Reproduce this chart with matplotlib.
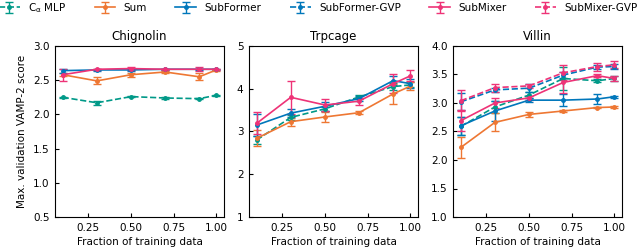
import numpy as np
import matplotlib.pyplot as plt

# fraction of training data
frac = [0.1, 0.3, 0.5, 0.7, 0.9, 1.0]

models = ["C$_\\alpha$ MLP", "Sum", "SubFormer", "SubFormer-GVP", "SubMixer", "SubMixer-GVP"]
colors = ["#009988", "#EE7733", "#0077BB", "#0077BB", "#EE3377", "#EE3377"]
styles = ["--", "-", "-", "--", "-", "--"]

# Chignolin
chig_calpha = [2.25, 2.17, 2.26, 2.24, 2.23, 2.28]
chig_calpha_err = [0.01, 0.03, 0.01, 0.01, 0.01, 0.01]
chig_sum = [2.58, 2.49, 2.58, 2.62, 2.55, 2.65]
chig_sum_err = [0.02, 0.05, 0.03, 0.01, 0.05, 0.01]
chig_subformer = [2.64, 2.65, 2.65, 2.66, 2.66, 2.66]
chig_subformer_err = [0.03, 0.01, 0.02, 0.01, 0.01, 0.01]
chig_submixer = [2.58, 2.66, 2.67, 2.66, 2.66, 2.66]
chig_submixer_err = [0.09, 0.01, 0.02, 0.01, 0.03, 0.01]

# Trpcage
trp_calpha = [2.80, 3.33, 3.53, 3.81, 4.05, 4.09]
trp_calpha_err = [0.10, 0.05, 0.05, 0.04, 0.08, 0.06]
trp_sum = [2.84, 3.23, 3.34, 3.44, 3.88, 4.06]
trp_sum_err = [0.19, 0.09, 0.12, 0.03, 0.24, 0.10]
trp_subformer = [3.15, 3.43, 3.59, 3.77, 4.19, 4.12]
trp_subformer_err = [0.25, 0.10, 0.10, 0.05, 0.10, 0.10]
trp_submixer = [3.19, 3.80, 3.62, 3.71, 4.12, 4.30]
trp_submixer_err = [0.26, 0.38, 0.15, 0.08, 0.22, 0.13]

# Villin
vil_calpha = [2.59, 2.93, 3.14, 3.43, 3.39, 3.43]
vil_calpha_err = [0.16, 0.11, 0.06, 0.20, 0.03, 0.04]
vil_sum = [2.22, 2.66, 2.80, 2.86, 2.92, 2.93]
vil_sum_err = [0.19, 0.16, 0.04, 0.02, 0.01, 0.01]
vil_subformer = [2.60, 2.86, 3.05, 3.05, 3.07, 3.11]
vil_subformer_err = [0.16, 0.17, 0.03, 0.10, 0.08, 0.02]
vil_subformer_gvp = [3.02, 3.23, 3.26, 3.49, 3.63, 3.64]
vil_subformer_gvp_err = [0.15, 0.04, 0.07, 0.05, 0.04, 0.04]
vil_submixer = [2.69, 3.00, 3.09, 3.36, 3.48, 3.43]
vil_submixer_err = [0.19, 0.08, 0.03, 0.18, 0.02, 0.04]
vil_submixer_gvp = [3.04, 3.27, 3.30, 3.53, 3.64, 3.67]
vil_submixer_gvp_err = [0.18, 0.07, 0.03, 0.13, 0.07, 0.06]

panels = [
    ("Chignolin", (0.5, 3.0), [0.5, 1.0, 1.5, 2.0, 2.5, 3.0], "{:.1f}",
     [(chig_calpha, chig_calpha_err), (chig_sum, chig_sum_err),
      (chig_subformer, chig_subformer_err), None,
      (chig_submixer, chig_submixer_err), None]),
    ("Trpcage", (1, 5), [1, 2, 3, 4, 5], "{:.0f}",
     [(trp_calpha, trp_calpha_err), (trp_sum, trp_sum_err),
      (trp_subformer, trp_subformer_err), None,
      (trp_submixer, trp_submixer_err), None]),
    ("Villin", (1.0, 4.0), [1.0, 1.5, 2.0, 2.5, 3.0, 3.5, 4.0], "{:.1f}",
     [(vil_calpha, vil_calpha_err), (vil_sum, vil_sum_err),
      (vil_subformer, vil_subformer_err), (vil_subformer_gvp, vil_subformer_gvp_err),
      (vil_submixer, vil_submixer_err), (vil_submixer_gvp, vil_submixer_gvp_err)]),
]

plt.rcParams["font.size"] = 7.5
plt.rcParams["mathtext.default"] = "regular"

fig = plt.figure(figsize=(6.4, 2.5), dpi=100)
lefts = [0.086, 0.389, 0.708]

handles = []
for i, (title, ylim, yticks, fmt, series) in enumerate(panels):
    ax = fig.add_axes([lefts[i], 0.132, 0.264, 0.684])
    for j, s in enumerate(series):
        if s is None:
            continue
        vals, errs = s
        h = ax.errorbar(frac, vals, yerr=errs, color=colors[j], ls=styles[j],
                        lw=1.2, marker="o", ms=2.5, capsize=3, elinewidth=1.0,
                        capthick=1.0, label=models[j])
        if i == 2:
            handles.append(h)
    ax.set_xlim(0.055, 1.045)
    ax.set_ylim(*ylim)
    ax.set_xticks([0.25, 0.5, 0.75, 1.0])
    ax.set_xticklabels(["0.25", "0.50", "0.75", "1.00"])
    ax.set_yticks(yticks)
    ax.set_yticklabels([fmt.format(t) for t in yticks])
    ax.tick_params(direction="in", length=3, width=0.8, pad=4)
    ax.set_title(title, fontsize=8.5, pad=4)
    ax.set_xlabel("Fraction of training data", labelpad=3)
    if i == 0:
        ax.set_ylabel("Max. validation VAMP-2 score", labelpad=4)

fig.legend(handles, models, loc="center left", ncol=6, frameon=False,
           bbox_to_anchor=(-0.002, 0.94, 0.998, 0.056), mode="expand",
           handlelength=2.0, handletextpad=0.8, fontsize=7.5,
           borderaxespad=0.0, borderpad=0.0)

fig.savefig("out.png", dpi=100)
